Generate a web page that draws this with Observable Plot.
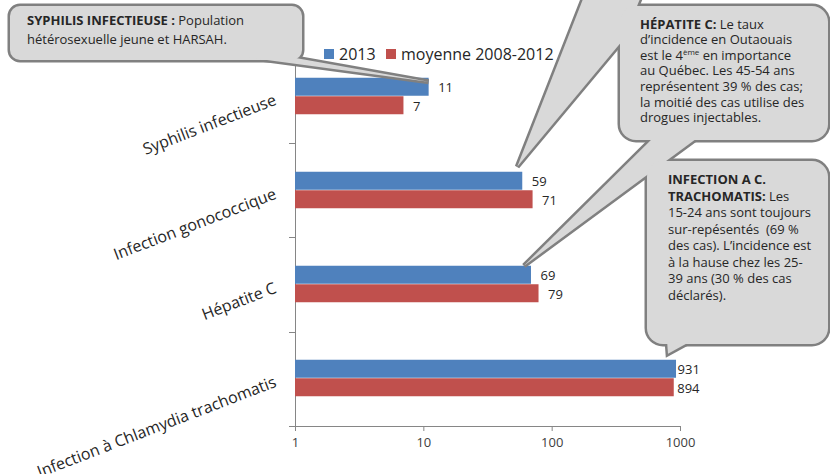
<!DOCTYPE html>
<html>
<head>
<meta charset="utf-8">
<script src="https://cdn.jsdelivr.net/npm/d3@7"></script>
<script src="https://cdn.jsdelivr.net/npm/@observablehq/plot@0.6"></script>
<style>
  html, body { margin: 0; padding: 0; background: #fff; }
  #chart svg { display: block; }
</style>
</head>
<body>
<div id="chart"></div>
<script>
// Incidence des ITSS, Outaouais : 2013 vs moyenne 2008-2012 (échelle log)
const categories = [
  "Syphilis infectieuse",
  "Infection gonococcique",
  "Hépatite C",
  "Infection à Chlamydia trachomatis"
];
const values2013 = [11, 59, 69, 931];
const valuesAvg = [7, 71, 79, 894];
const seriesNames = ["2013", "moyenne 2008-2012"];
const seriesColors = ["#4F81BD", "#C0504D"];
const xTicks = [1, 10, 100, 1000];

// Texte des bulles d'annotation : [gras, normal] par ligne ; |...| = exposant
const noteSyphilis = [
  ["SYPHILIS INFECTIEUSE :", " Population"],
  ["", "hétérosexuelle jeune et HARSAH."]
];
const noteHepatite = [
  ["HÉPATITE C:", " Le taux"],
  ["", "d’incidence en Outaouais"],
  ["", "est le 4|ème| en importance"],
  ["", "au Québec. Les 45-54 ans"],
  ["", "représentent 39 % des cas;"],
  ["", "la moitié des cas utilise des"],
  ["", "drogues injectables."]
];
const noteChlamydia = [
  ["INFECTION A C.", ""],
  ["TRACHOMATIS:", " Les"],
  ["", "15-24 ans sont toujours"],
  ["", "sur-repésentés  (69 %"],
  ["", "des cas). L’incidence est"],
  ["", "à la hause chez les 25-"],
  ["", "39 ans (30 % des cas"],
  ["", "déclarés)."]
];

const W = 830, H = 474;
const M = {top: 48, right: 150, bottom: 48, left: 295};
const barH = 18.5;
const step = (H - M.top - M.bottom) / categories.length;
const font = "'Open Sans', sans-serif";
const axisGray = "#868686";
const textDark = "#262626";
const calloutFill = "#d9d9d9";
const calloutStroke = "#808080";

const rows2013 = categories.map((c, i) => ({category: c, value: values2013[i]}));
const rowsAvg = categories.map((c, i) => ({category: c, value: valuesAvg[i]}));

const half = step / 2;
const chart = Plot.plot({
  width: W,
  height: H,
  marginTop: M.top,
  marginRight: M.right,
  marginBottom: M.bottom,
  marginLeft: M.left,
  style: {fontFamily: font, background: "white"},
  x: {type: "log", domain: [1, 1000], label: null},
  y: {domain: categories, padding: 0, axis: null, label: null},
  marks: [
    Plot.axisX({
      ticks: xTicks, tickFormat: d => `${d}`, tickSize: 5, tickPadding: 6,
      fontSize: 13, stroke: axisGray, fill: "#404040", label: null
    }),
    Plot.ruleX([1], {stroke: axisGray}),
    // série 2013 (haut du groupe) puis moyenne (bas du groupe)
    Plot.barX(rows2013, {
      x1: () => 1, x2: "value", y: "category", fill: seriesColors[0],
      insetTop: half - barH, insetBottom: half
    }),
    Plot.barX(rowsAvg, {
      x1: () => 1, x2: "value", y: "category", fill: seriesColors[1],
      insetTop: half, insetBottom: half - barH
    }),
    // étiquettes de valeur
    Plot.text(rows2013, {
      filter: d => d.value < 500, x: "value", y: "category", text: d => `${d.value}`,
      textAnchor: "start", dx: 9, dy: -barH / 2 + 1, fontSize: 13, fill: textDark
    }),
    Plot.text(rows2013, {
      filter: d => d.value >= 500, x: "value", y: "category", text: d => `${d.value}`,
      textAnchor: "start", dx: 1, dy: -barH / 2 + 1, fontSize: 13, fill: textDark
    }),
    Plot.text(rowsAvg, {
      filter: d => d.value < 500, x: "value", y: "category", text: d => `${d.value}`,
      textAnchor: "start", dx: 9, dy: barH / 2 + 1, fontSize: 13, fill: textDark
    }),
    Plot.text(rowsAvg, {
      filter: d => d.value >= 500, x: "value", y: "category", text: d => `${d.value}`,
      textAnchor: "start", dx: 3, dy: barH / 2 + 1, fontSize: 13, fill: textDark
    }),
    // libellés de catégorie inclinés
    Plot.text(categories, {
      y: d => d, text: d => d, frameAnchor: "left", dx: -20, dy: 3,
      rotate: -21, textAnchor: "end", fontSize: 16, fill: textDark
    })
  ]
});

document.getElementById("chart").appendChild(chart);

const svg = d3.select(chart);
const xs = chart.scale("x");
const ys = chart.scale("y");
const [x0, x1] = xs.range;
const [yTop, yBottom] = ys.range;
const bandStep = (yBottom - yTop) / categories.length;
const xOf = v => xs.apply(v);
const barTop = i => ys.apply(categories[i]) + half - barH;

// ligne de l'axe horizontal et graduations de séparation des catégories
const axes = svg.append("g").attr("stroke", axisGray).attr("stroke-width", 1);
axes.append("line")
  .attr("x1", x0 - 6).attr("x2", x1)
  .attr("y1", yBottom + 0.5).attr("y2", yBottom + 0.5);
d3.range(categories.length + 1).forEach(i => {
  const y = Math.round(yTop + i * bandStep) + 0.5;
  axes.append("line").attr("x1", x0 - 6).attr("x2", x0).attr("y1", y).attr("y2", y);
});

// légende
const legend = svg.append("g").attr("font-family", font).attr("font-size", 16)
  .attr("fill", textDark).attr("text-anchor", "start");
const legendX = [324, 386];
seriesNames.forEach((name, i) => {
  legend.append("rect").attr("x", legendX[i]).attr("y", 49).attr("width", 10).attr("height", 10)
    .attr("fill", seriesColors[i]);
  legend.append("text").attr("x", legendX[i] + 15).attr("y", 59.5).text(name);
});

// bulles : formes réunies (contour d'abord, remplissage ensuite)
function callout(shapes) {
  const g = svg.append("g");
  const draw = (sel, s) => {
    if (s.rect) {
      const [x, y, w, h, r] = s.rect;
      return sel.append("rect").attr("x", x).attr("y", y).attr("width", w).attr("height", h)
        .attr("rx", r).attr("ry", r);
    }
    return sel.append("polygon").attr("points", s.poly.map(p => p.join(",")).join(" "));
  };
  shapes.forEach(s => draw(g, s).attr("fill", calloutFill).attr("stroke", calloutStroke)
    .attr("stroke-width", 5).attr("stroke-linejoin", "miter"));
  shapes.forEach(s => draw(g, s).attr("fill", calloutFill).attr("stroke", "none"));
  return g;
}

function noteText(lines, x, y0, lh) {
  const t = svg.append("text").attr("font-family", font).attr("font-size", 13)
    .attr("fill", textDark).attr("text-anchor", "start");
  lines.forEach(([bold, normal], i) => {
    const line = t.append("tspan").attr("x", x).attr("y", y0 + i * lh);
    if (bold) line.append("tspan").attr("font-weight", "bold").text(bold);
    normal.split("|").forEach((part, k) => {
      if (!part) return;
      const sp = line.append("tspan").text(part);
      if (k % 2 === 1) sp.attr("font-size", 8).attr("dy", -5);
      else if (k > 0) sp.attr("dy", 5);
    });
  });
}

callout([
  {rect: [10, 6, 292, 54, 10]},
  {poly: [[245, 57], [xOf(values2013[0]), barTop(0) + 4], [290, 57]]}
]);
noteText(noteSyphilis, 27, 25, 19);

callout([
  {poly: [[585, -6], [xOf(values2013[1]) - 5, barTop(1) - 5], [623, 40], [642, -6]]},
  {rect: [620, 6, 208, 134, 16]},
  {poly: [[655, 136], [xOf(values2013[2]) - 7, barTop(2)], [700, 136]]},
  {rect: [647, 161, 181, 183, 16]},
  {poly: [[667, 340], [xOf(values2013[3]) - 8, barTop(3) - 6], [693, 340]]}
]);
noteText(noteHepatite, 640, 28.5, 15.6);
noteText(noteChlamydia, 668, 184, 16.5);
</script>
</body>
</html>
